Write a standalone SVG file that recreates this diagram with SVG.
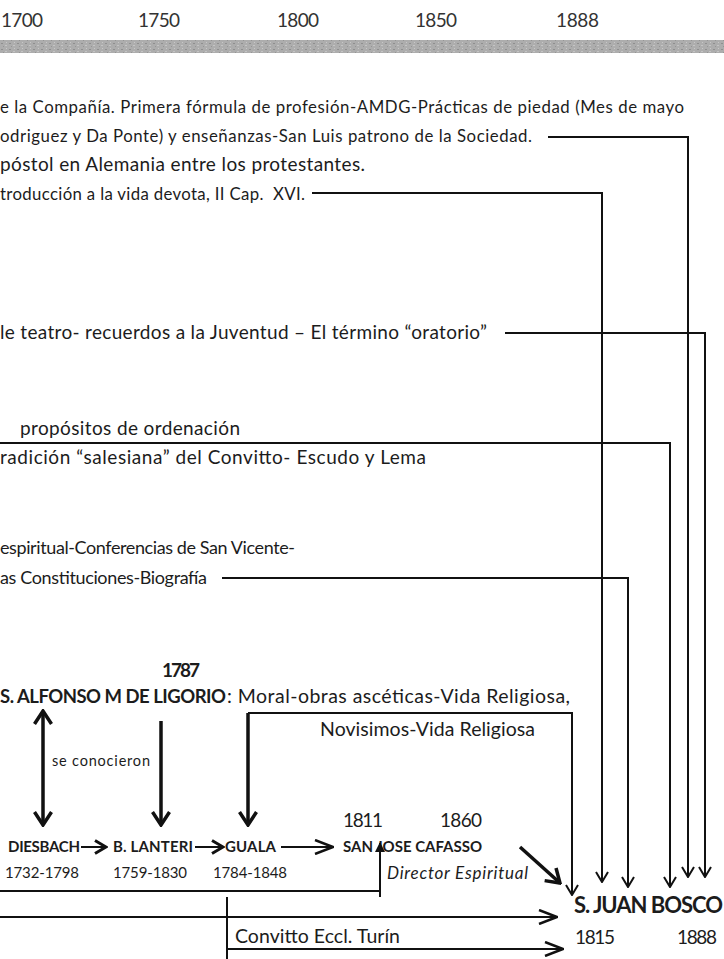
<svg xmlns="http://www.w3.org/2000/svg" width="724" height="959" viewBox="0 0 724 959">
<defs>
<style>
text{font-family:Lato,"Liberation Sans",sans-serif;fill:#1c1c1c}
.yr{font-size:19px;fill:#333}
.t16{font-size:16.8px}
.t17{font-size:19px}
.t17s{font-size:18px}
.t18{font-size:19.5px}
.tb{font-size:18.5px;font-weight:bold}
.b{font-weight:bold}
.it{font-style:italic}
.c{fill:none;stroke:#111;stroke-width:2}
.cb{fill:none;stroke:#111;stroke-width:3.5}
</style>
<pattern id="noise" width="8" height="6" patternUnits="userSpaceOnUse">
<rect width="8" height="6" fill="#adadad"/>
<rect x="1" y="1" width="2" height="1" fill="#8f8f8f"/>
<rect x="5" y="3" width="2" height="1" fill="#c4c4c4"/>
<rect x="3" y="4" width="1" height="1" fill="#959595"/>
<rect x="6" y="0" width="1" height="1" fill="#c8c8c8"/>
</pattern>
<marker id="v" viewBox="0 0 12 14" refX="11" refY="7" markerWidth="12" markerHeight="14" markerUnits="userSpaceOnUse" orient="auto">
<path d="M1,1 L11,7 L1,13" fill="none" stroke="#111" stroke-width="2"/>
</marker>
<marker id="vb" viewBox="0 0 16 20" refX="14" refY="10" markerWidth="16" markerHeight="20" markerUnits="userSpaceOnUse" orient="auto">
<path d="M1,1.5 L14,10 L1,18.5" fill="none" stroke="#111" stroke-width="3.5"/>
</marker>
<marker id="vs" viewBox="0 0 14 16" refX="12" refY="8" markerWidth="14" markerHeight="16" markerUnits="userSpaceOnUse" orient="auto">
<path d="M1,1.5 L12,8 L1,14.5" fill="none" stroke="#111" stroke-width="3"/>
</marker>
<marker id="vm" viewBox="0 0 20 16" refX="19" refY="8" markerWidth="20" markerHeight="16" markerUnits="userSpaceOnUse" orient="auto">
<path d="M1,1 L19,8 L1,15" fill="none" stroke="#111" stroke-width="2.5"/>
</marker>
<marker id="tri" viewBox="0 0 10 10" refX="9" refY="5" markerWidth="10" markerHeight="10" markerUnits="userSpaceOnUse" orient="auto">
<path d="M0,0 L10,5 L0,10 z" fill="#111"/>
</marker>
</defs>
<rect width="724" height="959" fill="#fff"/>

<g id="timeline">
<text class="yr" x="1" y="27" textLength="42">1700</text>
<text class="yr" x="138" y="27" textLength="42">1750</text>
<text class="yr" x="277" y="27" textLength="42">1800</text>
<text class="yr" x="415" y="27" textLength="42">1850</text>
<text class="yr" x="556" y="27" textLength="43">1888</text>
<rect x="0" y="40" width="724" height="13" fill="url(#noise)"/>
</g>

<g id="n-compania">
<text class="t16" x="0" y="113" textLength="684">e la Compañía. Primera fórmula de profesión-AMDG-Prácticas de piedad (Mes de mayo</text>
<text class="t16" x="0" y="142" textLength="532">odriguez y Da Ponte) y enseñanzas-San Luis patrono de la Sociedad.</text>
</g>
<g id="n-apostol">
<text class="t17" x="0" y="171" textLength="365">póstol en Alemania entre los protestantes.</text>
</g>
<g id="n-introduccion">
<text class="t16" x="0" y="200" textLength="305" xml:space="preserve">troducción a la vida devota, II Cap.  XVI.</text>
</g>
<g id="n-oratorio">
<text class="t17" x="0" y="339" textLength="487">le teatro- recuerdos a la Juventud – El término “oratorio”</text>
</g>
<g id="n-propositos">
<text class="t17" x="20" y="435" textLength="220">propósitos de ordenación</text>
</g>
<g id="n-tradicion">
<text class="t17" x="0" y="464" textLength="426">radición “salesiana” del Convitto- Escudo y Lema</text>
</g>
<g id="n-espiritual">
<text class="t17s" x="0" y="554" textLength="295">espiritual-Conferencias de San Vicente-</text>
<text class="t17s" x="0" y="584" textLength="207">as Constituciones-Biografía</text>
</g>
<g id="n-alfonso">
<text class="t17 b" x="162" y="677" textLength="38">1787</text>
<text class="tb" x="0" y="703" textLength="226">S. ALFONSO M DE LIGORIO</text>
<text class="t18" x="227" y="703" textLength="343">: Moral-obras ascéticas-Vida Religiosa,</text>
<text class="t18" x="320" y="736" textLength="215">Novisimos-Vida Religiosa</text>
</g>
<g id="n-seconocieron">
<text x="52" y="766" font-size="14.5" textLength="98">se conocieron</text>
</g>
<g id="n-diesbach">
<text class="b" x="8" y="852" font-size="15" textLength="72">DIESBACH</text>
<text x="5" y="878" font-size="15" textLength="74">1732-1798</text>
</g>
<g id="n-lanteri">
<text class="b" x="113" y="852" font-size="15" textLength="80">B. LANTERI</text>
<text x="113" y="878" font-size="15" textLength="74">1759-1830</text>
</g>
<g id="n-guala">
<text class="b" x="225" y="852" font-size="15" textLength="51">GUALA</text>
<text x="213" y="878" font-size="15" textLength="74">1784-1848</text>
</g>
<g id="n-cafasso">
<text x="343" y="827" font-size="19" textLength="40">1811</text>
<text x="440" y="827" font-size="19" textLength="42">1860</text>
<text class="b" x="343" y="852" font-size="15" textLength="139">SAN JOSE CAFASSO</text>
<text class="it" x="387" y="879" font-size="17" textLength="141">Director Espiritual</text>
</g>
<g id="n-convitto">
<text class="t18" x="235" y="943" textLength="165">Convitto Eccl. Turín</text>
</g>
<g id="n-bosco">
<text class="b" x="574" y="913" font-size="22" textLength="149">S. JUAN BOSCO</text>
<text x="575" y="944" font-size="19" textLength="40">1815</text>
<text x="677" y="944" font-size="19" textLength="40">1888</text>
</g>

<g id="connectors">
<path class="c" d="M548,137 H688 V877" marker-end="url(#v)"/>
<path class="c" d="M312,193 H602 V882" marker-end="url(#v)"/>
<path class="c" d="M505,333 H705 V877" marker-end="url(#v)"/>
<path class="c" d="M0,443 H670 V887" stroke-width="2.5" marker-end="url(#v)"/>
<path class="c" d="M222,578 H628 V887" marker-end="url(#v)"/>
<path class="c" d="M248,713 H572 V895" marker-end="url(#v)"/>
<path class="cb" d="M248,713 V825" marker-end="url(#vb)"/>
<path class="cb" d="M161,721 V825" marker-end="url(#vb)"/>
<path class="cb" d="M43,740 V825" marker-end="url(#vb)"/>
<path class="cb" d="M43,740 V711" marker-end="url(#vb)"/>
<path class="c" d="M81,847 H106" stroke-width="3" marker-end="url(#vs)"/>
<path class="c" d="M195,847 H223" stroke-width="3" marker-end="url(#vs)"/>
<path class="c" d="M281,847 H333" stroke-width="2.5" marker-end="url(#vm)"/>
<path class="c" d="M0,891 H380" stroke-width="1.8"/>
<path class="c" d="M380,897 V843" stroke-width="1.8" marker-end="url(#tri)"/>
<path class="c" d="M0,917 H557" stroke-width="2.5" marker-end="url(#vm)"/>
<path class="c" d="M227,897 V959" stroke-width="1.8"/>
<path class="c" d="M227,949 H563" stroke-width="2.5" marker-end="url(#vm)"/>
<path class="cb" d="M520,847 L560,883" stroke-width="5" marker-end="url(#vb)"/>
</g>
</svg>
